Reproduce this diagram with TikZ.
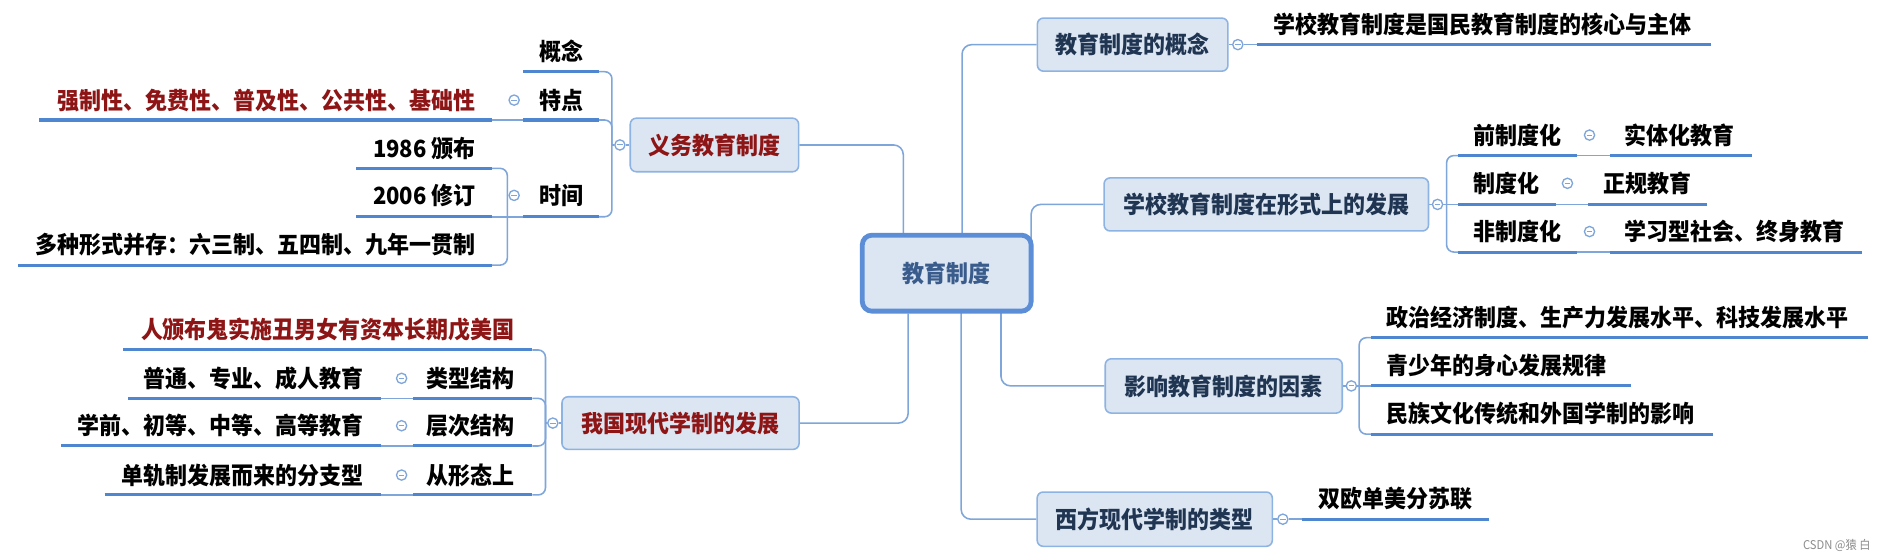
\documentclass[tikz,border=0pt]{standalone}
\usepackage{fontspec}
\setmainfont{Noto Sans CJK SC}[FakeStretch=0.93]
\pgfdeclarelayer{bg}
\pgfsetlayers{bg,main}
\definecolor{ulc}{HTML}{4F86D0}
\definecolor{cnc}{HTML}{7FA6DB}
\definecolor{boxfill}{HTML}{DCE6F2}
\definecolor{boxdraw}{HTML}{8DB3E2}
\definecolor{cenc}{HTML}{5B8ED6}
\definecolor{navy}{HTML}{1F3552}
\definecolor{cent}{HTML}{3A5C8C}
\definecolor{redt}{HTML}{8E1515}
\newcommand\tfont{\fontsize{19.6}{23}\selectfont\bfseries}
\tikzset{
  conn/.style={draw=cnc, line width=1.3pt, rounded corners=6pt},
  uline/.style={draw=ulc, line width=2.5pt},
  topic/.style={draw=boxdraw, fill=boxfill, line width=1.3pt, rounded corners=5pt, inner sep=0pt, font=\tfont, text=navy},
  redtopic/.style={topic, text=redt},
  central/.style={draw=cenc, fill=boxfill, line width=4pt, rounded corners=8pt, inner sep=0pt, font=\tfont, text=cent},
  leaf/.style={inner sep=0pt, font=\tfont, text=black},
  redleaf/.style={leaf, text=redt},
  fold/.style={circle, draw=cnc, fill=white, line width=1.1pt, minimum size=8.5pt, inner sep=0pt,
    path picture={\draw[cnc, line width=0.8pt] ([xshift=-2.3pt]path picture bounding box.center) -- ([xshift=2.3pt]path picture bounding box.center);}},
}
\begin{document}
\begin{tikzpicture}[x=1pt,y=-1pt]
\begin{pgfonlayer}{bg}
\fill[white] (0,0) rectangle (1568,464);
\end{pgfonlayer}
\useasboundingbox (0,0) rectangle (1568,464);

% ---- topics
\node[central, minimum width=140pt, minimum height=63pt] (cen) at (785,226.5) {教育制度};
\node[topic, minimum width=158pt, minimum height=44pt] (gai) at (939.2,37) {教育制度的概念};
\node[topic, minimum width=269pt, minimum height=44pt] (fz) at (1050,169.5) {学校教育制度在形式上的发展};
\node[topic, minimum width=196.5pt, minimum height=45pt] (yx) at (1014.7,320) {影响教育制度的因素};
\node[topic, minimum width=195pt, minimum height=45pt] (xf) at (957.5,430.5) {西方现代学制的类型};
\node[redtopic, minimum width=139.6pt, minimum height=44.4pt] (yw) at (592.4,120.2) {义务教育制度};
\node[redtopic, minimum width=196.6pt, minimum height=43.6pt] (wg) at (564.3,350.8) {我国现代学制的发展};

% ---- fold circles
\node[fold] (f-gai) at (1026.4,37) {};
\node[fold] (f-fz) at (1192,169.5) {};
\node[fold] (f-yx) at (1120.5,320) {};
\node[fold] (f-xf) at (1063.7,430.5) {};
\node[fold] (f-yw) at (514,120.2) {};
\node[fold] (f-wg) at (458.4,350.8) {};
\node[fold] (f-qz) at (1318,112) {};
\node[fold] (f-zd) at (1299.7,152) {};
\node[fold] (f-fzd) at (1318,192) {};
\node[fold] (f-td) at (426.3,83) {};
\node[fold] (f-sj) at (426.3,162) {};
\node[fold] (f-lx) at (333,313.7) {};
\node[fold] (f-cc) at (333,353) {};
\node[fold] (f-xt) at (333,393.9) {};

% ---- right leaves
\node[leaf, anchor=west] (gai1) at (1056,20.5) {学校教育制度是国民教育制度的核心与主体};
\node[leaf, anchor=west] (qz) at (1222,112) {前制度化};
\node[leaf, anchor=west] (qz1) at (1346.7,112) {实体化教育};
\node[leaf, anchor=west] (zd) at (1222,152) {制度化};
\node[leaf, anchor=west] (zd1) at (1329.7,152) {正规教育};
\node[leaf, anchor=west] (fzd) at (1222,192) {非制度化};
\node[leaf, anchor=west] (fzd1) at (1346.7,192) {学习型社会、终身教育};
\node[leaf, anchor=west] (yx1) at (1149.7,263) {政治经济制度、生产力发展水平、科技发展水平};
\node[leaf, anchor=west] (yx2) at (1149.7,303) {青少年的身心发展规律};
\node[leaf, anchor=west] (yx3) at (1149.7,343) {民族文化传统和外国学制的影响};
\node[leaf, anchor=west] (xf1) at (1093,413) {双欧单美分苏联};

% ---- left leaves
\node[leaf] (gn) at (465.2,43) {概念};
\node[leaf] (td) at (465.2,83) {特点};
\node[leaf] (sj) at (465.2,162) {时间};
\node[redleaf, anchor=east] (td1) at (394.6,83) {强制性、免费性、普及性、公共性、基础性};
\node[leaf, anchor=east] (sj1) at (394.6,123) {1986 颁布};
\node[leaf, anchor=east] (sj2) at (394.6,162) {2006 修订};
\node[leaf, anchor=east] (sj3) at (394.6,203) {多种形式并存：六三制、五四制、九年一贯制};
\node[redleaf, anchor=east] (rb) at (427,273.6) {人颁布鬼实施丑男女有资本长期戊美国};
\node[leaf, anchor=east] (lx) at (427,313.7) {类型结构};
\node[leaf, anchor=east] (cc) at (427,353) {层次结构};
\node[leaf, anchor=east] (xt) at (427,393.9) {从形态上};
\node[leaf, anchor=east] (lx1) at (301.4,313.7) {普通、专业、成人教育};
\node[leaf, anchor=east] (cc1) at (301.4,353) {学前、初等、中等、高等教育};
\node[leaf, anchor=east] (xt1) at (301.4,393.9) {单轨制发展而来的分支型};

\node[font=\fontsize{10}{12}\selectfont, text=black!45, inner sep=0pt] (wm) at (1523,452) {CSDN @猿 白};

\begin{pgfonlayer}{bg}
% center connectors
\draw[conn, rounded corners=8pt] (yw.east) -| ([xshift=-36pt]cen.north);
\draw[conn, rounded corners=8pt] (wg.east) -| ([xshift=-32pt]cen.south);
\draw[conn, rounded corners=8pt] ([xshift=12.7pt]cen.center) |- (gai.west);
\draw[conn, rounded corners=8pt] ([xshift=70pt]cen.center) |- (fz.west);
\draw[conn, rounded corners=8pt] ([xshift=45pt]cen.center) |- (yx.west);
\draw[conn, rounded corners=8pt] ([xshift=12pt]cen.center) |- (xf.west);
% box to fold
\draw[conn] (gai.east) -- (f-gai.west);
\draw[conn] (fz.east) -- (f-fz.west);
\draw[conn] (yx.east) -- (f-yx.west);
\draw[conn] (xf.east) -- (f-xf.west);
\draw[conn] (yw.west) -- (f-yw.east);
\draw[conn] (wg.west) -- (f-wg.east);

% gai
\coordinate (gaiA) at (1042,37);
\draw[conn] (f-gai.east) -- (gaiA);
\draw[uline] (gaiA) -- (1418.5,37);

% fz
\coordinate (fzB) at (1199.5,169.5);
\draw[conn] (f-fz.east) -- (1209,169.5);
\draw[conn] (1209,129) -| (fzB);
\draw[conn] (1209,209) -| (fzB);
\draw[uline] (1209,129) -- (1308,129);
\draw[conn] (1308,129) -- (1334.8,129);
\draw[uline] (1334.8,129) -- (1452.5,129);
\draw[uline] (1209,169.5) -- (1290,169.5);
\draw[conn] (1290,169.5) -- (1316.7,169.5);
\draw[uline] (1316.7,169.5) -- (1415.7,169.5);
\draw[uline] (1209,209) -- (1308,209);
\draw[conn] (1308,209) -- (1334.8,209);
\draw[uline] (1334.8,209) -- (1544,209);

% yx
\coordinate (yxB) at (1127,320);
\draw[conn] (f-yx.east) -- (1137,320);
\draw[conn] (1137,280) -| (yxB);
\draw[conn] (1137,360) -| (yxB);
\draw[uline] (1137,280) -- (1548.7,280);
\draw[uline] (1137,320) -- (1352,320);
\draw[uline] (1137,360) -- (1420,360);

% xf
\draw[conn] (f-xf.east) -- (1080,430.5);
\draw[uline] (1080,430.5) -- (1234.6,430.5);

% yw
\coordinate (ywB) at (507.4,120.2);
\draw[conn] (f-yw.west) -- (ywB);
\draw[conn] (496.6,59.4) -| (ywB);
\draw[conn] (496.6,99.5) -| (ywB);
\draw[conn] (496.6,179.7) -| (ywB);
\draw[uline] (433.7,59.4) -- (496.6,59.4);
\draw[uline] (433.7,99.5) -- (496.6,99.5);
\draw[uline] (433.7,179.7) -- (496.6,179.7);
\draw[uline] (32.5,99.5) -- (407.7,99.5);
\draw[conn] (407.7,99.5) -- (433.7,99.5);
\coordinate (sjB) at (420.7,179.7);
\draw[conn] (407.7,139.6) -| (sjB);
\draw[conn] (407.7,219.8) -| (sjB);
\draw[conn] (407.7,179.7) -- (433.7,179.7);
\draw[uline] (295,139.6) -- (407.7,139.6);
\draw[uline] (295,179.7) -- (407.7,179.7);
\draw[uline] (15,219.8) -- (407.7,219.8);

% wg
\coordinate (wgB) at (452.3,350.8);
\draw[conn] (f-wg.west) -- (wgB);
\draw[conn] (441.5,290.2) -| (wgB);
\draw[conn] (441.5,330.3) -| (wgB);
\draw[conn] (441.5,369.8) -| (wgB);
\draw[conn] (441.5,410.4) -| (wgB);
\draw[uline] (102,290.2) -- (441.5,290.2);
\draw[uline] (342.6,330.3) -- (441.5,330.3);
\draw[uline] (342.6,369.8) -- (441.5,369.8);
\draw[uline] (342.6,410.4) -- (441.5,410.4);
\draw[uline] (106,330.3) -- (315.7,330.3);
\draw[uline] (50.7,369.8) -- (315.7,369.8);
\draw[uline] (86.7,410.4) -- (315.7,410.4);
\draw[conn] (315.7,330.3) -- (342.6,330.3);
\draw[conn] (315.7,369.8) -- (342.6,369.8);
\draw[conn] (315.7,410.4) -- (342.6,410.4);
\end{pgfonlayer}
\end{tikzpicture}
\end{document}
